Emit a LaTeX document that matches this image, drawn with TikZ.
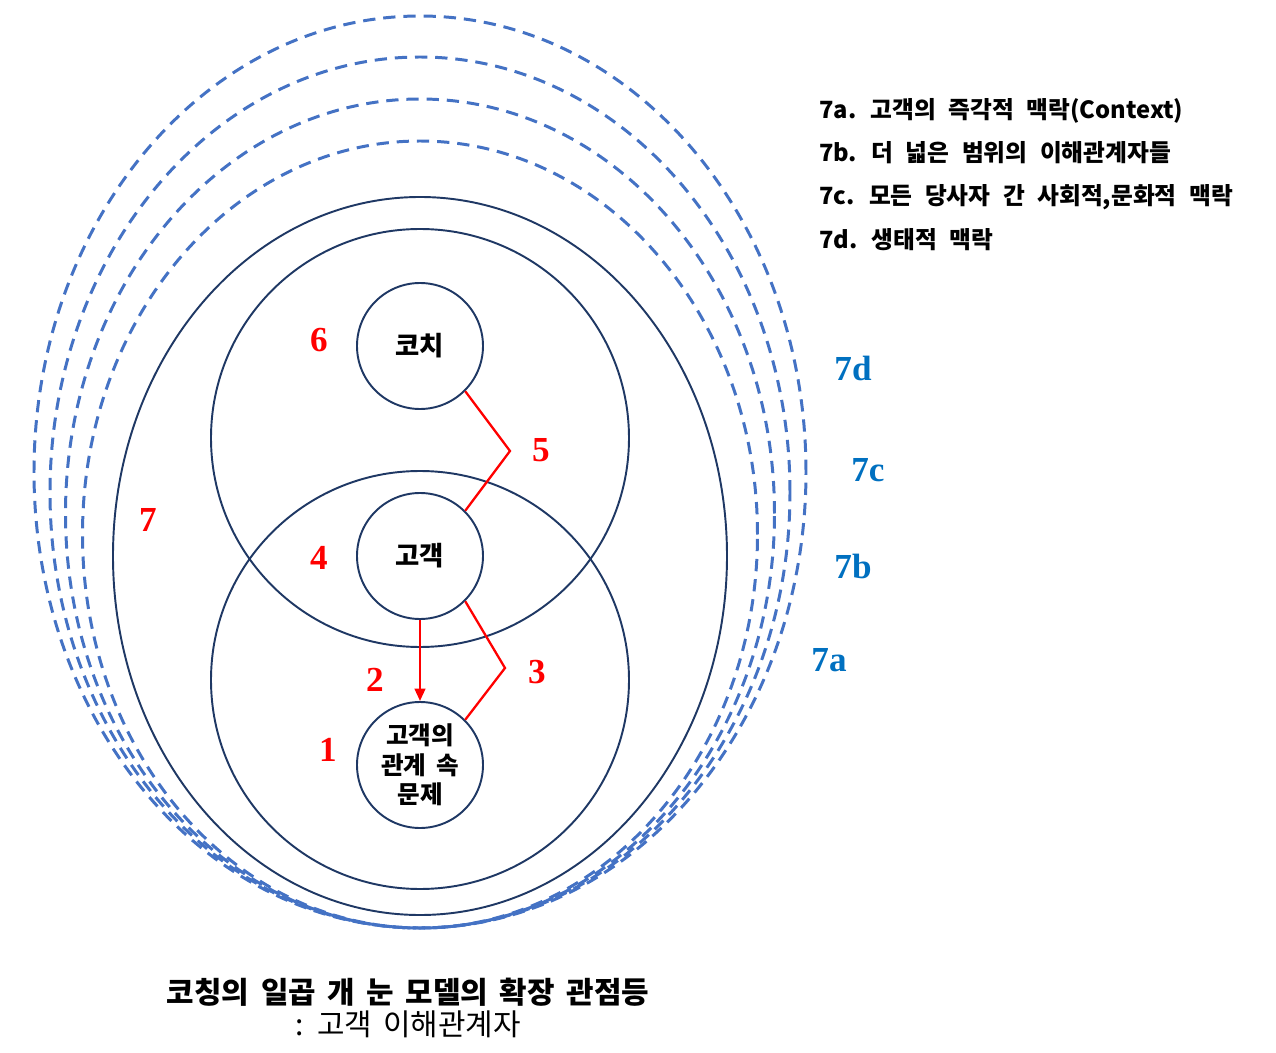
\documentclass[tikz,border=0pt]{standalone}
\usepackage{fontspec}
\setmainfont{Noto Sans CJK KR}[WordSpace=1.7]
\newfontfamily\krlegend{Noto Sans CJK KR}[WordSpace=2.3]
\newfontfamily\tnr{Liberation Serif}
\usepackage{tikz}
\usetikzlibrary{arrows.meta,positioning}
\definecolor{navy}{RGB}{31,56,100}
\definecolor{dashblue}{RGB}{68,114,196}
\definecolor{labblue}{RGB}{0,112,192}

\begin{document}
\begin{tikzpicture}[
    ring/.style={draw=navy, line width=1.1pt},
    ctx/.style={draw=dashblue, line width=1.7pt, dash pattern=on 7pt off 4.5pt},
    eye/.style={circle, draw=navy, line width=1.1pt, minimum size=2.52cm,
                inner sep=0pt, align=center,
                font=\fontsize{15}{17}\selectfont\bfseries},
    num/.style={text=red, font=\tnr\fontsize{20}{20}\selectfont\bfseries},
    numb/.style={text=labblue, font=\tnr\fontsize{20}{20}\selectfont\bfseries},
    link/.style={draw=red, line width=1.3pt},
    legend/.style={anchor=west, font=\krlegend\fontsize{13.5}{15}\selectfont\bfseries}]

\useasboundingbox (-8.4,-9.92) rectangle (17.12,11.12);

\foreach \yc/\rx/\ry in {1.68/7.72/9.12, 1.27/7.40/8.71, 0.85/7.09/8.29,
                         0.43/6.75/7.87}
    {\draw[ctx] (0,\yc) ellipse [x radius=\rx, y radius=\ry];}
\draw[ring] (0,0) ellipse [x radius=6.14, y radius=7.18];
\draw[ring] (0,2.36) circle (4.18);
\draw[ring] (0,-2.48) circle (4.18);

\node[eye] (coach) at (0,4.2) {코치};
\node[eye] (client) at (0,0) {고객};
\node[eye, font=\fontsize{14}{16.7}\selectfont\bfseries] (problem) at (0,-4.18)
    {고객의\\관계 속\\문제};

\coordinate (bend5) at (1.8,2.1);
\coordinate (bend3) at (1.7,-2.24);
\draw[link] (coach.-45) -- (bend5) -- (client.45);
\draw[link] (client.-45) -- (bend3) -- (problem.45);
\draw[link, -{Triangle[length=7pt, width=6pt]}] (client.south) -- (problem.north);

\node[num] (n1) at (-1.84,-3.88) {1};
\node[num] (n2) at (-0.9,-2.48) {2};
\node[num] (n3) at (2.34,-2.32) {3};
\node[num] (n4) at (-2.02,-0.04) {4};
\node[num] (n5) at (2.42,2.12) {5};
\node[num] (n6) at (-2.02,4.32) {6};
\node[num] (n7) at (-5.44,0.72) {7};

\node[numb] (n7d) at (8.66,3.76) {7d};
\node[numb] (n7c) at (8.96,1.72) {7c};
\node[numb] (n7b) at (8.66,-0.2) {7b};
\node[numb] (n7a) at (8.18,-2.08) {7a};

\node[legend] (leg7a) at (7.86,8.9) {7a. 고객의 즉각적 맥락(Context)};
\node[legend] (leg7b) at (7.86,8.06) {7b. 더 넓은 범위의 이해관계자들};
\node[legend] (leg7c) at (7.86,7.18) {7c. 모든 당사자 간 사회적,문화적 맥락};
\node[legend] (leg7d) at (7.86,6.32) {7d. 생태적 맥락};

\node[font=\fontsize{17}{19}\selectfont\bfseries] (title) at (-0.24,-8.72)
    {코칭의 일곱 개 눈 모델의 확장 관점등};
\node[font=\fontsize{17}{19}\selectfont] (subtitle) at (-0.24,-9.36)
    {: 고객 이해관계자};
\end{tikzpicture}
\end{document}
